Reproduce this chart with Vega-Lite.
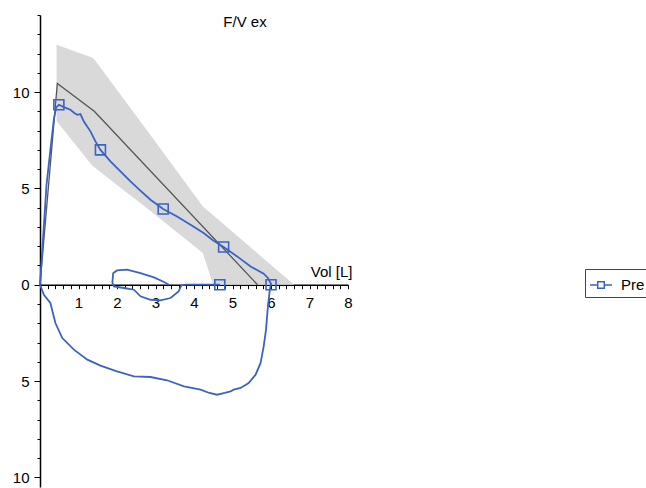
{
  "$schema": "https://vega.github.io/schema/vega-lite/v6.json",
  "width": 308,
  "height": 472,
  "autosize": {"type": "none"},
  "padding": {"left": 40, "top": 15, "right": 298, "bottom": 1},
  "config": {
    "font": "Liberation Sans",
    "view": {"stroke": null},
    "axis": {"grid": false, "labelFont": "Liberation Sans", "titleFont": "Liberation Sans", "labelColor": "black", "titleColor": "black", "domainColor": "black", "tickColor": "black"}
  },
  "title": {"text": "F/V ex", "fontSize": 15, "fontWeight": "normal", "color": "black", "anchor": "middle", "dx": 51, "offset": -34, "baseline": "alphabetic", "frame": "group"},
  "datasets": {
    "band": [
      {"x": 0.43, "y": 12.45, "y2": 8.5},
      {"x": 1.35, "y": 11.8, "y2": 6.2},
      {"x": 1.41, "y": 11.7, "y2": 6.1},
      {"x": 2.82, "y": 7.9, "y2": 3.9},
      {"x": 4.23, "y": 4.06, "y2": 1.64},
      {"x": 4.5, "y": 3.6, "y2": 0},
      {"x": 6.6, "y": 0, "y2": 0}
    ],
    "pred": [
      {"i": 0, "x": 0, "y": 0},
      {"i": 1, "x": 0.45, "y": 10.45},
      {"i": 2, "x": 1.41, "y": 9.0},
      {"i": 3, "x": 5.65, "y": 0}
    ],
    "flow": [
      {"s": "Pre", "seg": "A", "i": 0, "x": 0, "y": 0},
      {"s": "Pre", "seg": "A", "i": 1, "x": 0.05, "y": 1.5},
      {"s": "Pre", "seg": "A", "i": 2, "x": 0.17, "y": 5.2},
      {"s": "Pre", "seg": "A", "i": 3, "x": 0.27, "y": 7.0},
      {"s": "Pre", "seg": "A", "i": 4, "x": 0.36, "y": 8.6},
      {"s": "Pre", "seg": "A", "i": 5, "x": 0.42, "y": 9.2},
      {"s": "Pre", "seg": "A", "i": 6, "x": 0.49, "y": 9.34},
      {"s": "Pre", "seg": "A", "i": 7, "x": 0.62, "y": 9.22},
      {"s": "Pre", "seg": "A", "i": 8, "x": 0.79, "y": 9.08},
      {"s": "Pre", "seg": "A", "i": 9, "x": 0.9, "y": 8.9},
      {"s": "Pre", "seg": "A", "i": 10, "x": 0.97, "y": 8.82},
      {"s": "Pre", "seg": "A", "i": 11, "x": 1.05, "y": 8.86},
      {"s": "Pre", "seg": "A", "i": 12, "x": 1.14, "y": 8.47},
      {"s": "Pre", "seg": "A", "i": 13, "x": 1.31, "y": 7.96},
      {"s": "Pre", "seg": "A", "i": 14, "x": 1.44, "y": 7.44},
      {"s": "Pre", "seg": "A", "i": 15, "x": 1.57, "y": 7.0},
      {"s": "Pre", "seg": "A", "i": 16, "x": 1.83, "y": 6.4},
      {"s": "Pre", "seg": "A", "i": 17, "x": 2.09, "y": 5.88},
      {"s": "Pre", "seg": "A", "i": 18, "x": 2.35, "y": 5.36},
      {"s": "Pre", "seg": "A", "i": 19, "x": 2.6, "y": 4.9},
      {"s": "Pre", "seg": "A", "i": 20, "x": 2.87, "y": 4.41},
      {"s": "Pre", "seg": "A", "i": 21, "x": 3.2, "y": 3.93},
      {"s": "Pre", "seg": "A", "i": 22, "x": 3.56, "y": 3.54},
      {"s": "Pre", "seg": "A", "i": 23, "x": 3.91, "y": 3.11},
      {"s": "Pre", "seg": "A", "i": 24, "x": 4.25, "y": 2.68},
      {"s": "Pre", "seg": "A", "i": 25, "x": 4.5, "y": 2.3},
      {"s": "Pre", "seg": "A", "i": 26, "x": 4.77, "y": 1.96},
      {"s": "Pre", "seg": "A", "i": 27, "x": 5.12, "y": 1.47},
      {"s": "Pre", "seg": "A", "i": 28, "x": 5.47, "y": 0.95},
      {"s": "Pre", "seg": "A", "i": 29, "x": 5.81, "y": 0.57},
      {"s": "Pre", "seg": "A", "i": 30, "x": 5.92, "y": 0.35},
      {"s": "Pre", "seg": "A", "i": 31, "x": 6.0, "y": 0.05},
      {"s": "Pre", "seg": "A", "i": 32, "x": 5.97, "y": -0.26},
      {"s": "Pre", "seg": "A", "i": 33, "x": 5.92, "y": -1.13},
      {"s": "Pre", "seg": "A", "i": 34, "x": 5.87, "y": -2.34},
      {"s": "Pre", "seg": "A", "i": 35, "x": 5.81, "y": -3.2},
      {"s": "Pre", "seg": "A", "i": 36, "x": 5.73, "y": -4.06},
      {"s": "Pre", "seg": "A", "i": 37, "x": 5.6, "y": -4.67},
      {"s": "Pre", "seg": "A", "i": 38, "x": 5.42, "y": -5.1},
      {"s": "Pre", "seg": "A", "i": 39, "x": 5.21, "y": -5.36},
      {"s": "Pre", "seg": "A", "i": 40, "x": 5.03, "y": -5.45},
      {"s": "Pre", "seg": "A", "i": 41, "x": 4.95, "y": -5.54},
      {"s": "Pre", "seg": "A", "i": 42, "x": 4.8, "y": -5.62},
      {"s": "Pre", "seg": "A", "i": 43, "x": 4.6, "y": -5.71},
      {"s": "Pre", "seg": "A", "i": 44, "x": 4.4, "y": -5.62},
      {"s": "Pre", "seg": "A", "i": 45, "x": 4.17, "y": -5.45},
      {"s": "Pre", "seg": "A", "i": 46, "x": 3.74, "y": -5.28},
      {"s": "Pre", "seg": "A", "i": 47, "x": 3.3, "y": -4.96},
      {"s": "Pre", "seg": "A", "i": 48, "x": 2.87, "y": -4.79},
      {"s": "Pre", "seg": "A", "i": 49, "x": 2.44, "y": -4.76},
      {"s": "Pre", "seg": "A", "i": 50, "x": 2.0, "y": -4.5},
      {"s": "Pre", "seg": "A", "i": 51, "x": 1.57, "y": -4.2},
      {"s": "Pre", "seg": "A", "i": 52, "x": 1.23, "y": -3.89},
      {"s": "Pre", "seg": "A", "i": 53, "x": 0.88, "y": -3.37},
      {"s": "Pre", "seg": "A", "i": 54, "x": 0.58, "y": -2.77},
      {"s": "Pre", "seg": "A", "i": 55, "x": 0.4, "y": -1.99},
      {"s": "Pre", "seg": "A", "i": 56, "x": 0.27, "y": -0.95},
      {"s": "Pre", "seg": "A", "i": 57, "x": 0.1, "y": -0.52},
      {"s": "Pre", "seg": "A", "i": 58, "x": 0, "y": 0},
      {"s": "Pre", "seg": "B", "i": 0, "x": 3.35, "y": 0},
      {"s": "Pre", "seg": "B", "i": 1, "x": 3.22, "y": 0.14},
      {"s": "Pre", "seg": "B", "i": 2, "x": 2.96, "y": 0.38},
      {"s": "Pre", "seg": "B", "i": 3, "x": 2.61, "y": 0.6},
      {"s": "Pre", "seg": "B", "i": 4, "x": 2.26, "y": 0.78},
      {"s": "Pre", "seg": "B", "i": 5, "x": 2.0, "y": 0.74},
      {"s": "Pre", "seg": "B", "i": 6, "x": 1.9, "y": 0.6},
      {"s": "Pre", "seg": "B", "i": 7, "x": 1.88, "y": 0.1},
      {"s": "Pre", "seg": "B", "i": 8, "x": 1.92, "y": -0.09},
      {"s": "Pre", "seg": "B", "i": 9, "x": 2.18, "y": -0.17},
      {"s": "Pre", "seg": "B", "i": 10, "x": 2.44, "y": -0.26},
      {"s": "Pre", "seg": "B", "i": 11, "x": 2.61, "y": -0.6},
      {"s": "Pre", "seg": "B", "i": 12, "x": 2.87, "y": -0.78},
      {"s": "Pre", "seg": "B", "i": 13, "x": 3.13, "y": -0.81},
      {"s": "Pre", "seg": "B", "i": 14, "x": 3.39, "y": -0.69},
      {"s": "Pre", "seg": "B", "i": 15, "x": 3.6, "y": -0.35},
      {"s": "Pre", "seg": "B", "i": 16, "x": 3.67, "y": -0.04},
      {"s": "Pre", "seg": "B", "i": 17, "x": 3.8, "y": 0},
      {"s": "Pre", "seg": "B", "i": 18, "x": 4.67, "y": 0}
    ],
    "marks": [
      {"s": "Pre", "x": 0.49, "y": 9.34},
      {"s": "Pre", "x": 1.57, "y": 7.0},
      {"s": "Pre", "x": 3.2, "y": 3.93},
      {"s": "Pre", "x": 4.77, "y": 1.96},
      {"s": "Pre", "x": 6.0, "y": 0},
      {"s": "Pre", "x": 4.67, "y": 0}
    ]
  },
  "encoding": {
    "x": {
      "field": "x", "type": "quantitative",
      "scale": {"domain": [0, 8], "nice": false, "zero": false},
      "axis": {
        "title": "Vol [L]", "titleFontSize": 15, "titleFontWeight": "normal",
        "titleX": 312, "titleY": -8, "titleAlign": "right", "titleBaseline": "alphabetic", "titleAnchor": null,
        "values": [0,0.2,0.4,0.6,0.8,1,1.2,1.4,1.6,1.8,2,2.2,2.4,2.6,2.8,3,3.2,3.4,3.6,3.8,4,4.2,4.4,4.6,4.8,5,5.2,5.4,5.6,5.8,6,6.2,6.4,6.6,6.8,7,7.2,7.4,7.6,7.8,8],
        "labelExpr": "datum.value > 0.5 && abs(datum.value - round(datum.value)) < 0.01 ? format(round(datum.value), 'd') : ''",
        "labelFontSize": 15, "labelPadding": 7, "labelOverlap": false, "labelFlush": false,
        "tickSize": 4, "tickWidth": 1, "domainWidth": 1.5, "offset": -202.3
      }
    },
    "y": {
      "field": "y", "type": "quantitative",
      "scale": {"domain": [-10.5, 14], "nice": false, "zero": false},
      "axis": {
        "title": null,
        "values": [-10,-9,-8,-7,-6,-5,-4,-3,-2,-1,0,1,2,3,4,5,6,7,8,9,10,11,12,13,14],
        "labelExpr": "datum.value % 5 === 0 ? format(abs(datum.value), 'd') : ''",
        "labelFontSize": 15, "labelPadding": 5, "labelOverlap": false,
        "tickSize": {"condition": {"test": "datum.value % 5 === 0", "value": 6}, "value": 3},
        "tickWidth": 1, "domainWidth": 1.5
      }
    }
  },
  "layer": [
    {
      "data": {"name": "band"},
      "mark": {"type": "area", "color": "#d9d9d9", "opacity": 1},
      "encoding": {"y2": {"field": "y2"}}
    },
    {
      "data": {"name": "pred"},
      "mark": {"type": "line", "color": "#555555", "strokeWidth": 1.3},
      "encoding": {"order": {"field": "i", "type": "quantitative"}}
    },
    {
      "data": {"name": "flow"},
      "mark": {"type": "line", "strokeWidth": 1.8},
      "encoding": {
        "order": {"field": "i", "type": "quantitative"},
        "detail": {"field": "seg"},
        "color": {
          "field": "s", "type": "nominal",
          "scale": {"range": ["#3b63c4"]},
          "legend": {
            "title": null, "orient": "none", "legendX": 545, "legendY": 254,
            "symbolType": "M-1,0H-0.3M0.3,0H1M-0.3,-0.3H0.3V0.3H-0.3Z",
            "symbolSize": 484, "symbolStrokeWidth": 1.5, "symbolFillColor": "transparent",
            "labelFontSize": 15, "labelColor": "black", "labelOffset": 8,
            "strokeColor": "#444444", "padding": 4, "cornerRadius": 0
          }
        }
      }
    },
    {
      "data": {"name": "marks"},
      "mark": {"type": "point", "shape": "square", "filled": false, "size": 100, "strokeWidth": 1.6, "opacity": 1},
      "encoding": {
        "color": {"field": "s", "type": "nominal", "scale": {"range": ["#3b63c4"]}}
      }
    }
  ]
}
